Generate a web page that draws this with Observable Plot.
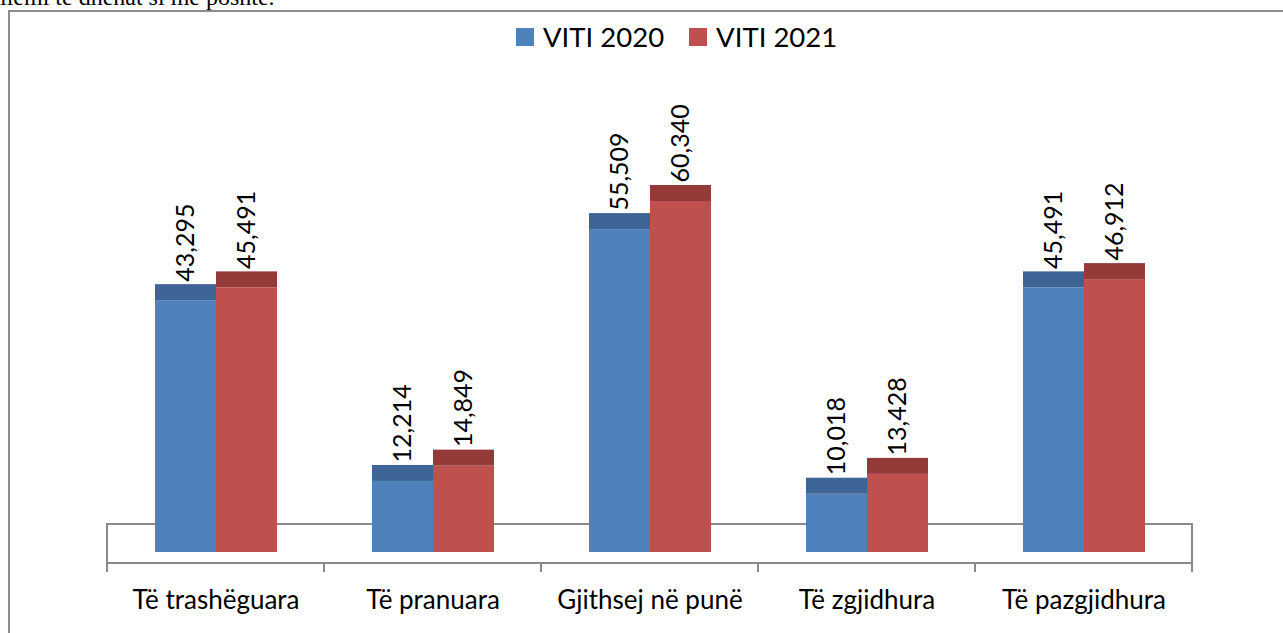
<!DOCTYPE html>
<html><head><meta charset="utf-8">
<script src="https://cdn.jsdelivr.net/npm/d3@7"></script>
<script src="https://cdn.jsdelivr.net/npm/@observablehq/plot@0.6"></script>
<style>
html,body{margin:0;padding:0;background:#fff;overflow:hidden}
#wrap{position:relative;width:1283px;height:633px;overflow:hidden;font-family:Lato,sans-serif}
#intro{position:absolute;left:0;top:-15px;font:24px/24px "Liberation Serif",serif;color:#000;white-space:nowrap}
#box{position:absolute;left:8px;top:10px;width:1300px;height:700px;border:2px solid #8c8c8c;box-sizing:border-box}
#chart{position:absolute;left:0;top:0}
#legend{position:absolute;left:516px;top:23px;display:flex;align-items:center;font-size:27.5px;line-height:27px;color:#000}
.item{display:flex;align-items:center;margin-right:25px}
.sw{width:18px;height:18px;margin-right:9px}
</style></head>
<body>
<div id="wrap">
  <div id="intro">llemi të dhënat si më poshtë.</div>
  <div id="box"></div>
  <div id="chart"></div>
  <div id="legend"></div>
</div>
<script>
const categories = ["Të trashëguara","Të pranuara","Gjithsej në punë","Të zgjidhura","Të pazgjidhura"];
const years = ["VITI 2020","VITI 2021"];
const values2020 = [43295,12214,55509,10018,45491];
const values2021 = [45491,14849,60340,13428,46912];
const faceColors = ["#4f81bd","#c0504d"];
const capColors = ["#3c6494","#943a39"];

const rows = [];
categories.forEach((c,i)=>{
  rows.push({cat:c, year:years[0], value:values2020[i]});
  rows.push({cat:c, year:years[1], value:values2021[i]});
});
const fmt = d3.format(",");

const capMarks = years.map((y,k)=>Plot.barY(rows.filter(d=>d.year===y),{
  fx:"cat", x:"year", y1:"value", y2:"value", fill:capColors[k], insetTop:-16
}));

const plot = Plot.plot({
  width:1283, height:633,
  marginLeft:105, marginRight:90, marginTop:60, marginBottom:70,
  style:{fontFamily:"Lato, sans-serif", background:"transparent", color:"#000"},
  fx:{domain:categories, padding:0, label:null},
  x:{domain:years, paddingInner:0, paddingOuter:0.755, axis:null},
  y:{domain:[0, d3.max(rows,d=>d.value)], range:[552,201], axis:null},
  color:{domain:years, range:faceColors},
  marks:[
    Plot.barY(rows,{fx:"cat", x:"year", y:"value", fill:"year"}),
    ...capMarks,
    Plot.text(rows,{fx:"cat", x:"year", y:"value", text:d=>fmt(d.value), rotate:-90,
      textAnchor:"start", lineAnchor:"middle", dy:-19, fontSize:25, fill:"#000"}),
    Plot.axisFx({anchor:"bottom", tickSize:0, tickPadding:27, fontSize:26, label:null})
  ]
});

// floor & category axis decorations positioned with the fx scale
const fx = plot.scale("fx");
const left = fx.apply(categories[0]);
const right = fx.apply(categories[categories.length-1]) + fx.bandwidth;
const svg = d3.select(plot);
const g = svg.insert("g", "g").attr("fill","none").attr("stroke","#8a8a8a").attr("stroke-width",2);
g.append("rect").attr("x",left).attr("y",524).attr("width",right-left).attr("height",39).attr("fill","#fff");
const edges = categories.map(c=>fx.apply(c)).concat([right]);
edges.forEach(e=>g.append("line").attr("x1",e).attr("x2",e).attr("y1",563).attr("y2",572));

document.getElementById("chart").appendChild(plot);

const legend = d3.select("#legend");
years.forEach((y,k)=>{
  const it = legend.append("div").attr("class","item");
  it.append("div").attr("class","sw").style("background",faceColors[k]);
  it.append("span").text(y);
});
</script>
</body></html>
